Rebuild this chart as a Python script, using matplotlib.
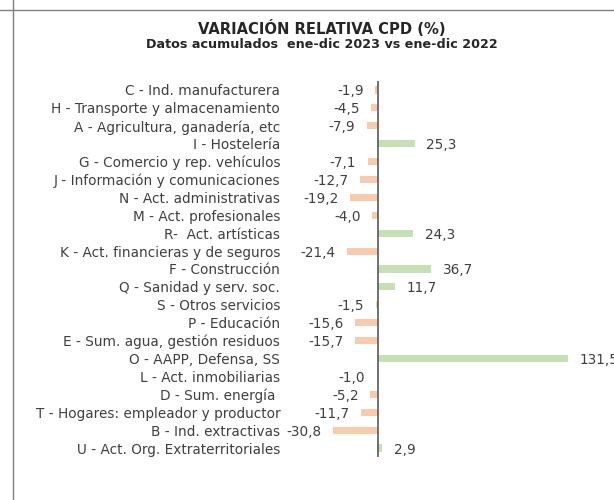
import matplotlib.pyplot as plt
from matplotlib.lines import Line2D

plt.rcParams['font.family'] = ['DejaVu Sans']

categories = [
    "C - Ind. manufacturera",
    "H - Transporte y almacenamiento",
    "A - Agricultura, ganadería, etc",
    "I - Hostelería",
    "G - Comercio y rep. vehículos",
    "J - Información y comunicaciones",
    "N - Act. administrativas",
    "M - Act. profesionales",
    "R-  Act. artísticas",
    "K - Act. financieras y de seguros",
    "F - Construcción",
    "Q - Sanidad y serv. soc.",
    "S - Otros servicios",
    "P - Educación",
    "E - Sum. agua, gestión residuos",
    "O - AAPP, Defensa, SS",
    "L - Act. inmobiliarias",
    "D - Sum. energía ",
    "T - Hogares: empleador y productor",
    "B - Ind. extractivas",
    "U - Act. Org. Extraterritoriales",
]
values = [-1.9, -4.5, -7.9, 25.3, -7.1, -12.7, -19.2, -4.0, 24.3, -21.4,
          36.7, 11.7, -1.5, -15.6, -15.7, 131.5, -1.0, -5.2, -11.7, -30.8, 2.9]

title = "VARIACIÓN RELATIVA CPD (%)"
subtitle = "Datos acumulados  ene-dic 2023 vs ene-dic 2022"

pos_color = "#C5E0B4"
neg_color = "#F8CBAD"
text_color = "#404040"

fig = plt.figure(figsize=(6.14, 5.0), dpi=100)
ax = fig.add_axes([283 / 614, 43 / 500, 317 / 614, 376 / 500])

n = len(categories)
ypos = list(range(n))
colors = [pos_color if v >= 0 else neg_color for v in values]
ax.barh(ypos, values, height=0.4, color=colors)
ax.axvline(0, color="#595959", lw=1.2)

ax.set_xlim(-65.7, 153.6)
ax.set_ylim(n - 0.5, -0.5)
ax.set_yticks(ypos)
ax.set_yticklabels(categories, fontsize=9.8, color=text_color,
                   va="center_baseline")
ax.tick_params(axis="y", length=0, pad=2)
ax.set_xticks([])
for s in ax.spines.values():
    s.set_visible(False)

for y, v in zip(ypos, values):
    label = f"{v:.1f}".replace(".", ",")
    if v >= 0:
        ax.text(v + 8, y, label, ha="left", va="center_baseline", fontsize=9.8,
                color=text_color, clip_on=False)
    else:
        ax.text(v - 8, y, label, ha="right", va="center_baseline", fontsize=9.8,
                color=text_color, clip_on=False)

fig.text(322 / 614, 1 - 28 / 500, title, ha="center", va="center",
         fontsize=10.6, fontweight="bold", color="#262626")
fig.text(322 / 614, 1 - 45 / 500, subtitle, ha="center", va="center",
         fontsize=9.2, fontweight="bold", color="#262626")

# frame lines of the surrounding sheet
fig.add_artist(Line2D([0, 1], [1 - 10 / 500, 1 - 10 / 500], color="#7f7f7f", lw=1))
fig.add_artist(Line2D([13 / 614, 13 / 614], [0, 1], color="#7f7f7f", lw=1))

fig.savefig("out.png", dpi=100)
